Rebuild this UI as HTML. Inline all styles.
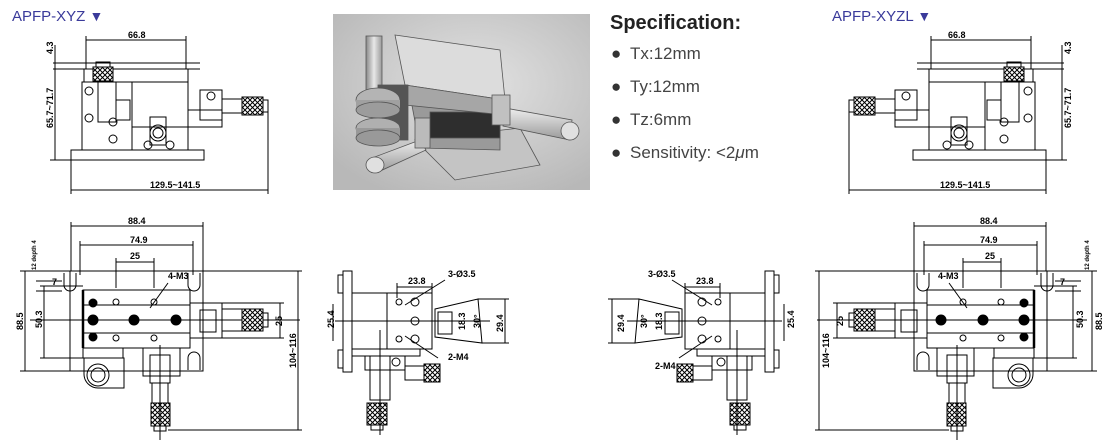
<!DOCTYPE html>
<html><head><meta charset="utf-8"><style>
html,body{margin:0;padding:0;background:#fff;}
body{width:1117px;height:446px;overflow:hidden;position:relative;font-family:"Liberation Sans",sans-serif;}
.t{position:absolute;font-size:15px;color:#3a3a9a;}
.spec{position:absolute;left:610px;color:#444;font-size:17px;}
.b{position:absolute;left:611px;color:#333;font-size:17px;}
svg{position:absolute;left:0;top:0;}
</style></head><body>
<svg width="1117" height="446" viewBox="0 0 1117 446">
<defs>
<pattern id="kn" width="5" height="5" patternUnits="userSpaceOnUse">
<rect width="5" height="5" fill="#fff"/><path d="M0 0L5 5M5 0L0 5" stroke="#000" stroke-width="1"/>
</pattern>
<radialGradient id="bg" cx="55%" cy="40%" r="70%"><stop offset="0" stop-color="#e2e2e2"/><stop offset="1" stop-color="#b8b8b8"/></radialGradient>
<linearGradient id="met" x1="0" y1="0" x2="0" y2="1"><stop offset="0" stop-color="#eee"/><stop offset="1" stop-color="#999"/></linearGradient>
<linearGradient id="met2" x1="0" y1="0" x2="1" y2="0"><stop offset="0" stop-color="#888"/><stop offset="0.5" stop-color="#e8e8e8"/><stop offset="1" stop-color="#999"/></linearGradient>
<g id="L" fill="none" stroke="#000" stroke-width="1">
<line x1="86" y1="40" x2="186" y2="40"/><line x1="86" y1="36" x2="86" y2="69"/><line x1="186" y1="36" x2="186" y2="69"/>
<line x1="53" y1="63" x2="200" y2="63"/><line x1="53" y1="69" x2="200" y2="69"/>
<line x1="55" y1="45" x2="55" y2="160"/><line x1="50" y1="160" x2="71" y2="160"/>
<rect x="84" y="69" width="104" height="13"/>
<rect x="82" y="82" width="50" height="68"/><rect x="132" y="82" width="56" height="45"/>
<rect x="132" y="127" width="56" height="23"/>
<rect x="71" y="150" width="133" height="10"/>
<rect x="93" y="67" width="20" height="14" fill="url(#kn)"/><rect x="96" y="62" width="14" height="5"/>
<rect x="98" y="82" width="18" height="40"/><rect x="116" y="100" width="14" height="20"/>
<circle cx="89" cy="91" r="4"/><circle cx="89" cy="118" r="4"/><circle cx="113" cy="122" r="4"/><circle cx="113" cy="139" r="4"/>
<rect x="150" y="117" width="16" height="28"/><circle cx="158" cy="133" r="8"/><circle cx="158" cy="133" r="5"/>
<circle cx="148" cy="145" r="4"/><circle cx="170" cy="145" r="4"/>
<rect x="188" y="110" width="34" height="17"/>
<rect x="200" y="90" width="22" height="30"/><circle cx="211" cy="96" r="4"/>
<rect x="222" y="99" width="20" height="14"/><rect x="242" y="97" width="21" height="18" fill="url(#kn)"/><rect x="263" y="100" width="5" height="12"/>
<line x1="71" y1="160" x2="71" y2="194"/><line x1="268" y1="112" x2="268" y2="194"/><line x1="71" y1="190" x2="268" y2="190"/>
<line x1="71" y1="226" x2="203" y2="226"/><line x1="71" y1="222" x2="71" y2="271"/><line x1="203" y1="222" x2="203" y2="271"/>
<line x1="80" y1="245" x2="193" y2="245"/><line x1="80" y1="241" x2="80" y2="275"/><line x1="193" y1="241" x2="193" y2="275"/>
<rect x="70" y="271" width="133" height="100"/>
<path d="M64 273v12a6 6 0 0 0 12 0v-12" /><path d="M188 273v12a6 6 0 0 0 12 0v-12"/><path d="M188 370v-12a6 6 0 0 1 12 0v12"/>
<rect x="83" y="290" width="107" height="58"/>
<line x1="83" y1="305" x2="190" y2="305"/><line x1="83" y1="333" x2="190" y2="333"/>
<line x1="83" y1="290" x2="83" y2="348" stroke-width="2.5"/>
<circle cx="93" cy="303" r="4" fill="#000"/><circle cx="93" cy="337" r="4" fill="#000"/>
<circle cx="93" cy="320" r="5" fill="#000"/><circle cx="134" cy="320" r="5" fill="#000"/><circle cx="176" cy="320" r="5" fill="#000"/>
<circle cx="116" cy="302" r="3"/><circle cx="154" cy="302" r="3"/><circle cx="116" cy="338" r="3"/><circle cx="154" cy="338" r="3"/>
<line x1="30" y1="320" x2="300" y2="320"/><line x1="116" y1="288" x2="116" y2="258"/><line x1="154" y1="288" x2="154" y2="258"/><line x1="116" y1="262" x2="154" y2="262"/>
<line x1="150" y1="308" x2="168" y2="283"/>
<rect x="190" y="303" width="32" height="35"/><rect x="200" y="310" width="16" height="22"/>
<rect x="222" y="309" width="20" height="22"/><rect x="242" y="309" width="21" height="22" fill="url(#kn)"/><rect x="263" y="313" width="5" height="14"/>
<line x1="222" y1="303" x2="284" y2="303"/><line x1="222" y1="338" x2="284" y2="338"/><line x1="280" y1="303" x2="280" y2="338"/>
<rect x="83" y="348" width="40" height="10"/>
<path d="M84 358h40v30h-26a14 14 0 0 1 -14 -14z"/><circle cx="98" cy="375" r="11"/><circle cx="98" cy="375" r="7"/>
<rect x="143" y="348" width="37" height="28"/><rect x="150" y="355" width="20" height="28"/>
<rect x="152" y="383" width="16" height="20"/><rect x="151" y="403" width="19" height="23" fill="url(#kn)"/><rect x="154" y="426" width="12" height="5"/>
<line x1="160" y1="345" x2="160" y2="440"/>
<line x1="25" y1="271" x2="25" y2="371"/><line x1="20" y1="271" x2="70" y2="271"/><line x1="20" y1="371" x2="70" y2="371"/>
<line x1="44" y1="286" x2="44" y2="358"/><line x1="40" y1="286" x2="83" y2="286"/><line x1="40" y1="358" x2="83" y2="358"/>
<line x1="298" y1="271" x2="298" y2="430"/><line x1="203" y1="271" x2="302" y2="271"/><line x1="168" y1="430" x2="302" y2="430"/>
<line x1="36" y1="281" x2="62" y2="281"/><line x1="36" y1="291" x2="62" y2="291"/>
<rect x="343" y="271" width="9" height="101"/><rect x="338" y="275" width="5" height="18"/><rect x="338" y="350" width="5" height="18"/>
<rect x="352" y="293" width="80" height="56"/><line x1="387" y1="293" x2="387" y2="349"/>
<circle cx="399" cy="302" r="3"/><circle cx="415" cy="302" r="4"/><circle cx="415" cy="321" r="4"/><circle cx="399" cy="339" r="3"/><circle cx="415" cy="339" r="4"/>
<line x1="397" y1="298" x2="397" y2="283"/><line x1="432" y1="293" x2="432" y2="283"/><line x1="397" y1="287" x2="432" y2="287"/>
<line x1="405" y1="305" x2="445" y2="280"/><line x1="405" y1="336" x2="438" y2="358"/>
<path d="M435 309L478 299L482 343L435 337Z"/><rect x="438" y="312" width="14" height="22"/>
<line x1="335" y1="321" x2="490" y2="321"/><line x1="505" y1="299" x2="505" y2="343"/><line x1="478" y1="299" x2="509" y2="299"/><line x1="482" y1="343" x2="509" y2="343"/>
<rect x="352" y="349" width="68" height="7"/><rect x="370" y="356" width="20" height="44"/>
<rect x="365" y="356" width="40" height="14"/><circle cx="396" cy="362" r="4"/>
<rect x="405" y="366" width="20" height="14"/><rect x="424" y="364" width="16" height="18" fill="url(#kn)"/>
<rect x="367" y="403" width="20" height="22" fill="url(#kn)"/><rect x="371" y="425" width="12" height="5"/>
<line x1="380" y1="330" x2="380" y2="435"/>
<line x1="333" y1="304" x2="333" y2="341"/>
</g>
</defs>
<use href="#L"/>
<use href="#L" transform="translate(1117,0) scale(-1,1)"/>
<rect x="333" y="14" width="257" height="176" fill="url(#bg)"/>
<g stroke="#555" stroke-width="0.8">
<path d="M415 140L520 128L540 165L455 180Z" fill="#c4c4c4"/>
<path d="M410 95L500 100L500 150L420 148Z" fill="#9a9a9a"/>
<rect x="430" y="112" width="70" height="26" fill="#2e2e2e"/>
<path d="M395 35L500 50L505 100L405 85Z" fill="#dcdcdc"/>
<path d="M405 85L505 100L505 115L405 105Z" fill="#a6a6a6"/>
<rect x="366" y="36" width="16" height="55" fill="url(#met2)"/>
<rect x="378" y="85" width="30" height="55" fill="#555"/>
<ellipse cx="378" cy="100" rx="22" ry="12" fill="#b4b4b4"/><rect x="356" y="100" width="44" height="10" fill="#a0a0a0" stroke="none"/><ellipse cx="378" cy="110" rx="22" ry="8" fill="#9c9c9c"/>
<ellipse cx="378" cy="128" rx="22" ry="10" fill="#b0b0b0"/><rect x="356" y="128" width="44" height="10" fill="#999" stroke="none"/><ellipse cx="378" cy="138" rx="22" ry="8" fill="#999"/>
<path d="M372 158L420 140L426 150L378 172Z" fill="url(#met)"/><ellipse cx="375" cy="165" rx="9" ry="8" fill="#e0e0e0"/>
<path d="M505 108L572 120L570 140L503 126Z" fill="url(#met)"/><ellipse cx="570" cy="131" rx="9" ry="9" fill="#e0e0e0"/>
<rect x="492" y="95" width="18" height="30" fill="#c0c0c0"/>
<rect x="415" y="118" width="15" height="30" fill="#bbb"/>
</g>
</svg>
<div class="t" style="left:12px;top:8px;">APFP-XYZ <span style="font-size:14px">▼</span></div>
<div class="t" style="left:832px;top:8px;">APFP-XYZL <span style="font-size:14px">▼</span></div>
<div class="spec" style="top:12px;font-weight:bold;font-size:20px;color:#222">Specification:</div>
<div class="b" style="top:44px;">●</div>
<div class="b" style="top:77px;">●</div>
<div class="b" style="top:110px;">●</div>
<div class="b" style="top:143px;">●</div>
<div class="spec" style="top:44px;left:630px">Tx:12mm</div>
<div class="spec" style="top:77px;left:630px">Ty:12mm</div>
<div class="spec" style="top:110px;left:630px">Tz:6mm</div>
<div class="spec" style="top:143px;left:630px">Sensitivity: &lt;2<i>μ</i>m</div>
<svg width="1117" height="446" style="font-family:'Liberation Sans',sans-serif;font-size:9px;font-weight:bold;" fill="#000">
<text x="128" y="38">66.8</text><text x="948" y="38">66.8</text>
<text x="150" y="188">129.5~141.5</text><text x="940" y="188">129.5~141.5</text>
<text transform="translate(53,54) rotate(-90)">4.3</text><text transform="translate(1071,54) rotate(-90)">4.3</text>
<text transform="translate(53,128) rotate(-90)">65.7~71.7</text><text transform="translate(1071,128) rotate(-90)">65.7~71.7</text>
<text x="128" y="224">88.4</text><text x="980" y="224">88.4</text>
<text x="130" y="243">74.9</text><text x="980" y="243">74.9</text>
<text x="130" y="259">25</text><text x="985" y="259">25</text>
<text x="168" y="279">4-M3</text><text x="938" y="279">4-M3</text>
<text x="52" y="285">7</text><text x="1060" y="285">7</text>
<text transform="translate(23,330) rotate(-90)">88.5</text><text transform="translate(1102,330) rotate(-90)">88.5</text>
<text transform="translate(42,328) rotate(-90)">50.3</text><text transform="translate(1083,328) rotate(-90)">50.3</text>
<text transform="translate(282,326) rotate(-90)">25</text><text transform="translate(843,326) rotate(-90)">25</text>
<text transform="translate(296,368) rotate(-90)">104~116</text><text transform="translate(829,368) rotate(-90)">104~116</text>
<text transform="translate(36,270) rotate(-90)" font-size="6">12 depth 4</text><text transform="translate(1089,270) rotate(-90)" font-size="6">12 depth 4</text>
<text x="408" y="284">23.8</text><text x="696" y="284">23.8</text>
<text x="448" y="277">3-Ø3.5</text><text x="648" y="277">3-Ø3.5</text>
<text x="448" y="360">2-M4</text><text x="655" y="369">2-M4</text>
<text transform="translate(334,328) rotate(-90)">25.4</text><text transform="translate(794,328) rotate(-90)">25.4</text>
<text transform="translate(465,330) rotate(-90)">18.3</text><text transform="translate(662,330) rotate(-90)">18.3</text>
<text transform="translate(480,328) rotate(-90)">30°</text><text transform="translate(647,328) rotate(-90)">30°</text>
<text transform="translate(503,332) rotate(-90)">29.4</text><text transform="translate(624,332) rotate(-90)">29.4</text>
</svg>
</body></html>
